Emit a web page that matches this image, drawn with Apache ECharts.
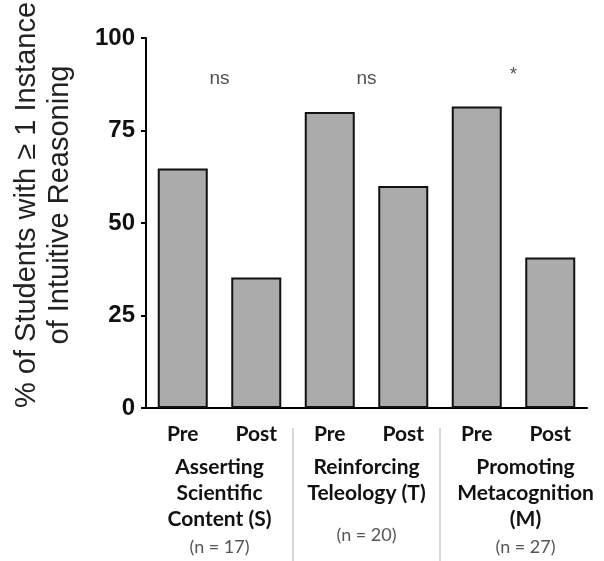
<!DOCTYPE html>
<html><head><meta charset="utf-8">
<script src="https://cdn.jsdelivr.net/npm/echarts@6/dist/echarts.min.js"></script>
<style>html,body{margin:0;padding:0;background:#fff}#c{width:604px;height:561px}</style>
</head><body><div id="c"></div>
<script>
var barCategories = ['Pre', 'Post', 'Pre', 'Post', 'Pre', 'Post'];
var barValues = [64.7, 35.3, 80, 60, 81.5, 40.7];
var groupNames = ['Asserting\nScientific\nContent (S)', 'Reinforcing\nTeleology (T)', 'Promoting\nMetacognition\n(M)'];
var groupN = ['(n = 17)', '(n = 20)', '(n = 27)'];
var sigLabels = ['ns', 'ns', '*'];
var sigY = [89, 89, 90];
var yTicks = [0, 25, 50, 75, 100];
var yTitle = ['% of Students with \u2265 1 Instance', 'of Intuitive Reasoning'];

var chart = echarts.init(document.getElementById('c'));
var groupCats = groupNames.map(function (g, i) { return 'G' + i; });

function groupLabel(v, idx) {
  var gs = idx === 2 ? 'g2' : 'g';
  var ns = idx === 2 ? 'n2' : 'n';
  var lines = groupNames[idx].split('\n').map(function (l) { return '{' + gs + '|' + l + '}'; });
  var s = lines.join('\n');
  if (lines.length < 3) s += '\n{sp| }';
  s += '\n{' + ns + '|' + groupN[idx] + '}';
  return s;
}

var titleGraphic = {
  type: 'text', x: 43, y: 205, rotation: Math.PI / 2,
  style: {
    text: yTitle.join('\n'), fontFamily: 'Liberation Sans', fontSize: 29, lineHeight: 33,
    fill: '#222', align: 'center', verticalAlign: 'middle'
  }
};

chart.setOption({
  animation: false,
  backgroundColor: '#fff',
  grid: { left: 146, right: 17, top: 38, bottom: 153 },
  xAxis: [{
    type: 'category', data: barCategories,
    axisLine: { lineStyle: { color: '#000', width: 2 } },
    axisTick: { show: false },
    axisLabel: { color: '#111', fontFamily: 'Lato', fontWeight: 'bold', fontSize: 21, margin: 16 }
  }, {
    type: 'category', data: groupCats, position: 'bottom',
    axisLine: { show: false }, axisTick: { show: false },
    axisLabel: {
      margin: 46, formatter: groupLabel,
      rich: {
        g: { fontFamily: 'Lato', fontWeight: 'bold', fontSize: 21, lineHeight: 26, color: '#111', align: 'center' },
        g2: { fontFamily: 'Lato', fontWeight: 'bold', fontSize: 21, lineHeight: 26, color: '#111', align: 'center', padding: [0, 0, 0, 24] },
        sp: { fontSize: 10, lineHeight: 14 },
        n: { fontFamily: 'Lato', fontSize: 18, lineHeight: 30, color: '#555', align: 'center' },
        n2: { fontFamily: 'Lato', fontSize: 18, lineHeight: 30, color: '#555', align: 'center', padding: [0, 0, 0, 24] }
      }
    }
  }],
  yAxis: {
    type: 'value', min: 0, max: 100, interval: 25,
    axisLine: { show: true, lineStyle: { color: '#000', width: 2 } },
    axisTick: { show: true, length: 5, lineStyle: { color: '#000', width: 2 } },
    splitLine: { show: false },
    axisLabel: {
      color: '#111', fontFamily: 'Liberation Sans', fontWeight: 'bold', fontSize: 24, margin: 11,
      formatter: function (v) { return yTicks.indexOf(v) >= 0 ? String(v) : ''; }
    }
  },
  series: [{
    type: 'bar', data: barValues, barWidth: 50,
    itemStyle: { color: '#ababab', borderColor: '#111', borderWidth: 2 }
  }, {
    type: 'scatter', xAxisIndex: 1, data: sigY, symbolSize: 0,
    label: {
      show: true, position: 'inside', color: '#222', fontFamily: 'Liberation Sans', fontSize: 19,
      formatter: function (p) { return sigLabels[p.dataIndex]; }
    }
  }],
  graphic: [titleGraphic]
});

var sepX = [2, 4].map(function (i) {
  var a = chart.convertToPixel({ xAxisIndex: 0 }, i - 1);
  var b = chart.convertToPixel({ xAxisIndex: 0 }, i);
  return (a + b) / 2;
});
chart.setOption({
  graphic: [titleGraphic].concat(sepX.map(function (x) {
    return { type: 'line', shape: { x1: x, y1: 428, x2: x, y2: 561 }, style: { stroke: '#c8c8c8', lineWidth: 1.5 } };
  }))
});
</script></body></html>
